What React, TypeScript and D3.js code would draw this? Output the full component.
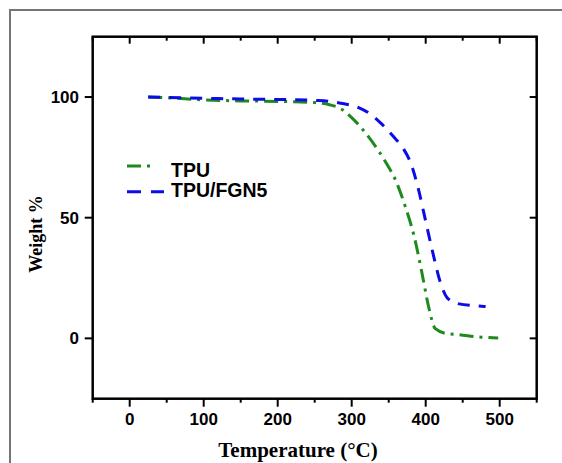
import React from 'react'
import * as d3 from 'd3'

const width = 562
const height = 463
const margin = { top: 36.7, right: 25.3, bottom: 64.3, left: 92.7 }

// TGA curves
const tpuTemp = [25, 50, 100, 150, 200, 250, 270, 285, 300, 315, 330, 345, 360, 372, 385, 395, 404, 413, 428, 445, 475, 498]
const tpuWeight = [100, 99.7, 98.8, 98.4, 98.2, 97.7, 96.8, 95.2, 91.5, 86.5, 80.5, 73.5, 65, 55, 41.5, 27, 13, 4, 2, 1.5, 0.5, 0.2]
const fgnTemp = [25, 50, 100, 150, 200, 250, 270, 290, 310, 325, 340, 357, 370, 380, 390, 400, 410, 420, 430, 445, 465, 481]
const fgnWeight = [100, 99.8, 99.5, 99.2, 99, 98.6, 98.2, 97.2, 95.5, 93, 89, 83.4, 78.5, 72.5, 62, 48.5, 35, 23, 16.5, 14.3, 13.6, 13.2]

const xTicks = [0, 100, 200, 300, 400, 500]
const xMinor = [-50, 50, 150, 250, 350, 450, 550]
const yTicks = [0, 50, 100]
const seriesNames = ['TPU', 'TPU/FGN5']

const green = '#1d8a1d'
const blue = '#0c0ce6'
const sans = '"Liberation Sans", Arial, sans-serif'
const serif = '"Liberation Serif", "Times New Roman", serif'

const x = d3.scaleLinear().domain([-50, 550]).range([margin.left, width - margin.right])
const y = d3.scaleLinear().domain([-25, 125]).range([height - margin.bottom, margin.top])

const line = d3.line<[number, number]>()
  .x(d => x(d[0]))
  .y(d => y(d[1]))
  .curve(d3.curveMonotoneX)

export default function App() {
  const tpu = tpuTemp.map((t, i) => [t, tpuWeight[i]] as [number, number])
  const fgn = fgnTemp.map((t, i) => [t, fgnWeight[i]] as [number, number])
  const x0 = margin.left, x1 = width - margin.right
  const y0 = margin.top, y1 = height - margin.bottom
  return (
    <div style={{ position: 'fixed', left: 0, top: 0 }}>
      <svg width={width} height={height} style={{ display: 'block', background: '#fff' }}>
        {/* outer frame, only top and left show */}
        <path d={`M10,${height} V10 H${width}`} fill="none" stroke="#757575" strokeWidth={2} />

        {/* data */}
        <path d={line(tpu) || ''} fill="none" stroke={green} strokeWidth={3} strokeDasharray="14 6 3 6" />
        <path d={line(fgn) || ''} fill="none" stroke={blue} strokeWidth={3} strokeDasharray="12 9" />

        {/* axes box */}
        <rect x={x0} y={y0} width={x1 - x0} height={y1 - y0} fill="none" stroke="#000" strokeWidth={2.5} />

        {/* x ticks */}
        {xTicks.map(t => (
          <g key={'xt' + t}>
            <line x1={x(t)} x2={x(t)} y1={y1} y2={y1 + 8} stroke="#000" strokeWidth={2} />
            <line x1={x(t)} x2={x(t)} y1={y0} y2={y0 + 7} stroke="#000" strokeWidth={2} />
            <text x={x(t)} y={425} textAnchor="middle" fontFamily={sans} fontWeight="bold" fontSize={17}>{t}</text>
          </g>
        ))}
        {xMinor.map(t => (
          <g key={'xm' + t}>
            <line x1={x(t)} x2={x(t)} y1={y1} y2={y1 + 4} stroke="#000" strokeWidth={2} />
            <line x1={x(t)} x2={x(t)} y1={y0} y2={y0 + 4} stroke="#000" strokeWidth={2} />
          </g>
        ))}

        {/* y ticks */}
        {yTicks.map(t => (
          <g key={'yt' + t}>
            <line x1={x0 - 8} x2={x0} y1={y(t)} y2={y(t)} stroke="#000" strokeWidth={2} />
            <line x1={x1 - 7} x2={x1} y1={y(t)} y2={y(t)} stroke="#000" strokeWidth={2} />
            <text x={79} y={y(t) + 6} textAnchor="end" fontFamily={sans} fontWeight="bold" fontSize={17}>{t}</text>
          </g>
        ))}

        {/* titles */}
        <text x={298} y={457} textAnchor="middle" fontFamily={serif} fontWeight="bold" fontSize={21}>Temperature (°C)</text>
        <text transform="translate(42,234) rotate(-90)" textAnchor="middle" fontFamily={serif} fontWeight="bold" fontSize={18}>Weight %</text>

        {/* legend */}
        <line x1={127} x2={163} y1={166} y2={166} stroke={green} strokeWidth={3} strokeDasharray="14 6 3 20" />
        <text x={171} y={176.7} fontFamily={sans} fontWeight="bold" fontSize={19.5}>{seriesNames[0]}</text>
        <line x1={127} x2={164} y1={191.7} y2={191.7} stroke={blue} strokeWidth={3} strokeDasharray="14 10" />
        <text x={171} y={196.7} fontFamily={sans} fontWeight="bold" fontSize={19.5}>{seriesNames[1]}</text>
      </svg>
    </div>
  )
}
